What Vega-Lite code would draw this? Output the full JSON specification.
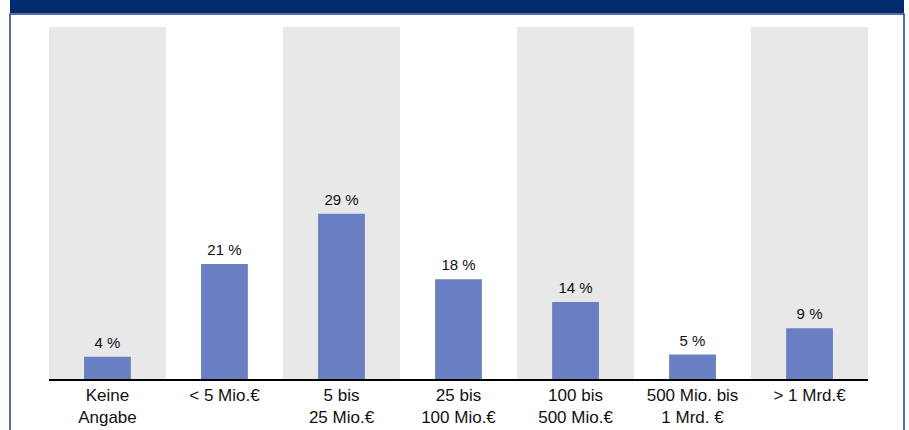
{
  "$schema": "https://vega.github.io/schema/vega-lite/v6.json",
  "background": "white",
  "padding": {"left": 9, "top": 0, "right": 6, "bottom": 0},
  "spacing": 0,
  "config": {"font": "Liberation Sans"},
  "vconcat": [
    {
      "width": 894,
      "height": 13,
      "view": {"fill": "#032b6b", "stroke": null},
      "data": {"values": [{}]},
      "mark": {"type": "text", "text": ""},
      "encoding": {}
    },
    {
      "width": 894,
      "height": 417,
      "view": {"stroke": "#1f3d94", "strokeWidth": 1.5},
      "data": {
        "values": [
          {"cat": "Keine\nAngabe", "value": 3.9, "label": "4 %"},
          {"cat": "< 5 Mio.€", "value": 20.2, "label": "21 %"},
          {"cat": "5 bis\n25 Mio.€", "value": 29.0, "label": "29 %"},
          {"cat": "25 bis\n100 Mio.€", "value": 17.5, "label": "18 %"},
          {"cat": "100 bis\n500 Mio.€", "value": 13.5, "label": "14 %"},
          {"cat": "500 Mio. bis\n1 Mrd. €", "value": 4.3, "label": "5 %"},
          {"cat": "> 1 Mrd.€", "value": 8.9, "label": "9 %"}
        ]
      },
      "encoding": {
        "x": {
          "field": "cat",
          "type": "nominal",
          "sort": ["Keine\nAngabe", "< 5 Mio.€", "5 bis\n25 Mio.€", "25 bis\n100 Mio.€", "100 bis\n500 Mio.€", "500 Mio. bis\n1 Mrd. €", "> 1 Mrd.€"],
          "scale": {"paddingInner": 0, "paddingOuter": 0.32, "align": 0.52},
          "axis": {
            "title": null,
            "orient": "bottom",
            "offset": -52,
            "domain": false,
            "ticks": false,
            "labelAngle": 0,
            "labelFontSize": 17,
            "labelColor": "#111111",
            "labelFont": "Liberation Sans",
            "labelPadding": 8,
            "labelLineHeight": 22,
            "labelOverlap": false,
            "labelLimit": 0,
            "labelExpr": "split(datum.label, '\\n')"
          }
        }
      },
      "layer": [
        {
          "transform": [
            {"filter": {"field": "cat", "oneOf": ["Keine\nAngabe", "5 bis\n25 Mio.€", "100 bis\n500 Mio.€", "> 1 Mrd.€"]}}
          ],
          "mark": {"type": "bar", "color": "#e8e8e8"},
          "encoding": {
            "y": {"datum": 61.75, "type": "quantitative", "scale": {"domain": [-9.12, 64.04], "nice": false, "zero": false}, "axis": null},
            "y2": {"datum": 0}
          }
        },
        {
          "mark": {"type": "bar", "color": "#6a7fc1", "width": {"band": 0.4}},
          "encoding": {
            "y": {"field": "value", "type": "quantitative", "axis": null},
            "y2": {"datum": 0}
          }
        },
        {
          "mark": {"type": "bar", "color": "#000000"},
          "encoding": {
            "y": {"datum": 0, "type": "quantitative"},
            "y2": {"datum": -0.35}
          }
        },
        {
          "mark": {"type": "text", "fontSize": 15, "dy": -9, "baseline": "alphabetic", "color": "#111111", "font": "Liberation Sans"},
          "encoding": {
            "y": {"field": "value", "type": "quantitative"},
            "text": {"field": "label"}
          }
        }
      ]
    }
  ]
}
